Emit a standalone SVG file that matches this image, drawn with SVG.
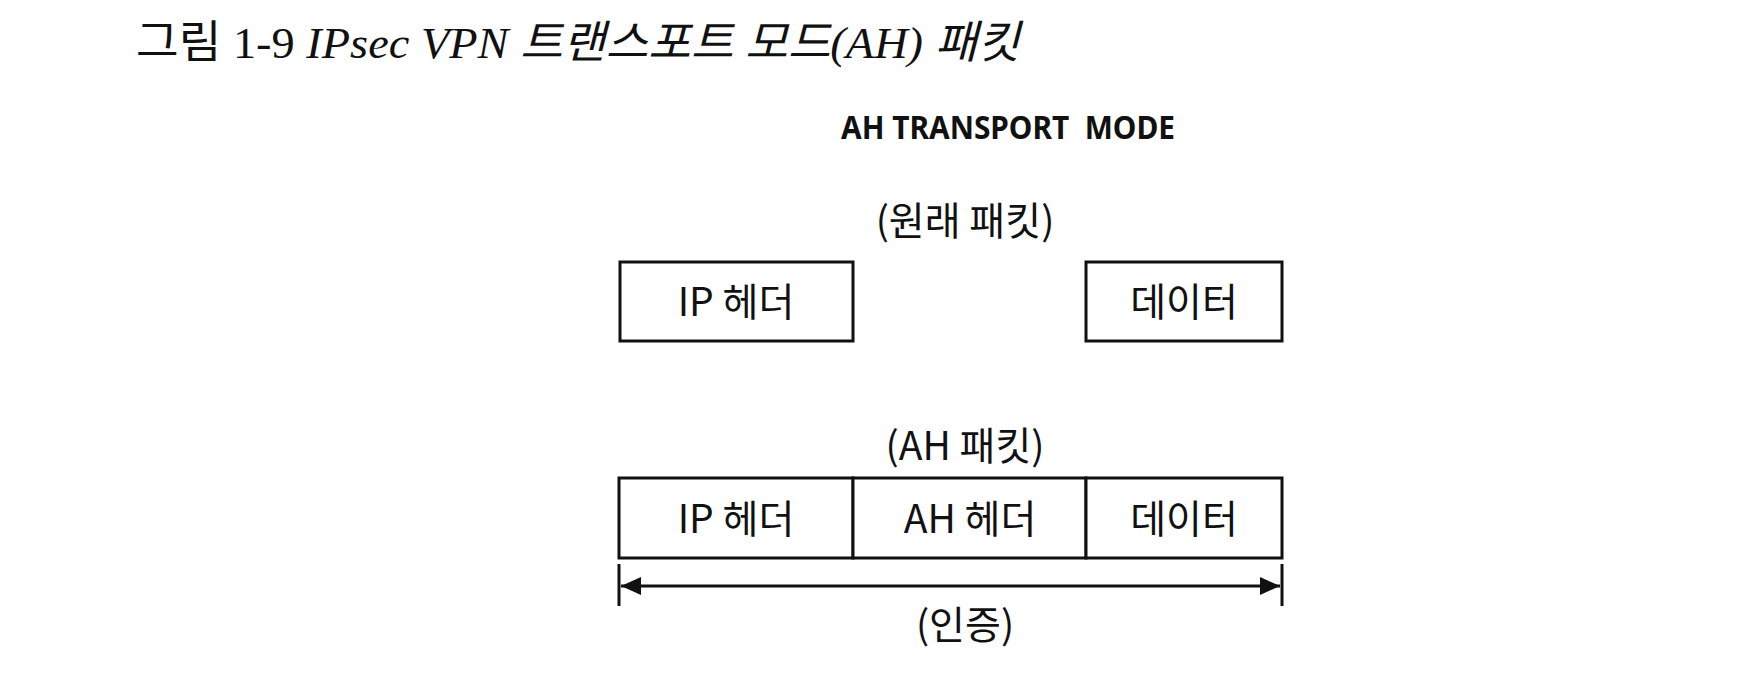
<svg xmlns="http://www.w3.org/2000/svg" width="1763" height="679" viewBox="0 0 1763 679">
<style>
.t{font-family:"Noto Sans CJK KR","Noto Sans",sans-serif;font-size:39px;fill:#111;text-anchor:middle}
.box{fill:#fff;stroke:#111;stroke-width:3}
.ln{stroke:#111;stroke-width:3;fill:none}
.title{font-family:"Liberation Serif","Noto Sans CJK KR",serif;font-size:45px;fill:#111}
</style>
<defs>
<marker id="ah" viewBox="0 0 20 18" refX="20" refY="9" markerWidth="20" markerHeight="18" markerUnits="userSpaceOnUse" orient="auto-start-reverse">
<path d="M0,0 L20,9 L0,18 Z" fill="#111"/>
</marker>
</defs>
<rect width="1763" height="679" fill="#fff"/>
<text class="title" x="136" y="58" textLength="884" lengthAdjust="spacingAndGlyphs">그림 1-9 <tspan font-style="italic">IPsec VPN 트랜스포트 모드(AH) 패킷</tspan></text>
<text x="1008" y="139" font-family="'Noto Sans','Noto Sans CJK KR',sans-serif" font-weight="bold" font-size="32" text-anchor="middle" fill="#111" xml:space="preserve" textLength="334" lengthAdjust="spacingAndGlyphs">AH TRANSPORT  MODE</text>
<text class="t" x="965" y="235">(원래 패킷)</text>
<g id="orig-ip">
<rect class="box" x="620" y="262" width="233" height="79"/>
<text class="t" x="736" y="316">IP 헤더</text>
</g>
<g id="orig-data">
<rect class="box" x="1086" y="262" width="196" height="79"/>
<text class="t" x="1184" y="316">데이터</text>
</g>
<text class="t" x="965" y="460">(AH 패킷)</text>
<g id="ah-ip">
<rect class="box" x="619" y="478" width="234" height="80"/>
<text class="t" x="736" y="533">IP 헤더</text>
</g>
<g id="ah-header">
<rect class="box" x="853" y="478" width="233" height="80"/>
<text class="t" x="970" y="533">AH 헤더</text>
</g>
<g id="ah-data">
<rect class="box" x="1086" y="478" width="196" height="80"/>
<text class="t" x="1184" y="533">데이터</text>
</g>
<g id="connectors">
<line class="ln" x1="619" y1="564" x2="619" y2="606"/>
<line class="ln" x1="1282" y1="564" x2="1282" y2="606"/>
<line class="ln" x1="621" y1="586" x2="1280" y2="586" marker-start="url(#ah)" marker-end="url(#ah)"/>
</g>
<text class="t" x="965" y="639">(인증)</text>
</svg>
